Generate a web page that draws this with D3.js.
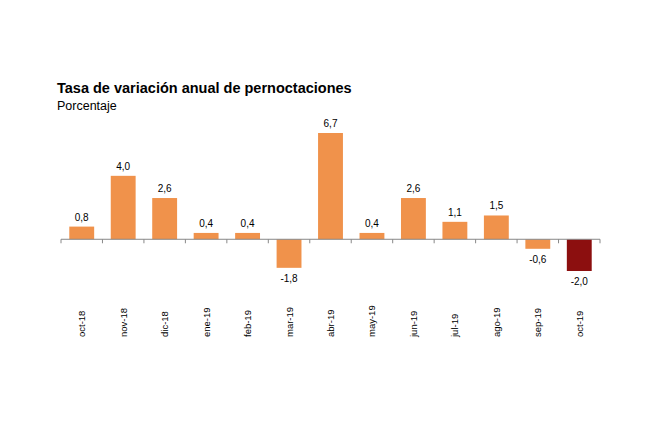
<!DOCTYPE html>
<html><head><meta charset="utf-8">
<script src="https://cdn.jsdelivr.net/npm/d3@7"></script>
<style>body{margin:0;background:#fff}text{font-family:"Liberation Sans",Arial,sans-serif}</style>
</head><body><svg width="650" height="437"></svg>
<script>
const categories = ["oct-18","nov-18","dic-18","ene-19","feb-19","mar-19","abr-19","may-19","jun-19","jul-19","ago-19","sep-19","oct-19"];
const values = [0.8, 4.0, 2.6, 0.4, 0.4, -1.8, 6.7, 0.4, 2.6, 1.1, 1.5, -0.6, -2.0];

const svg = d3.select("svg");
const x = d3.scaleBand().domain(categories).range([61, 600]).paddingInner(0.4).paddingOuter(0.2);
const y = d3.scaleLinear().domain([-2, 6.7]).range([271, 133]);

svg.append("text").attr("x", 57).attr("y", 93).attr("font-size", 14.5).attr("font-weight", "bold").text("Tasa de variación anual de pernoctaciones");
svg.append("text").attr("x", 57).attr("y", 110).attr("font-size", 12.5).text("Porcentaje");

svg.selectAll("rect.bar").data(values).enter().append("rect")
    .attr("x", (d, i) => x(categories[i]))
    .attr("width", x.bandwidth())
    .attr("y", d => y(Math.max(0, d)))
    .attr("height", d => Math.abs(y(d) - y(0)))
    .attr("fill", (d, i) => i === values.length - 1 ? "#8c0f0f" : "#f0924b");

svg.selectAll("text.val").data(values).enter().append("text")
    .attr("x", (d, i) => x(categories[i]) + x.bandwidth() / 2)
    .attr("y", d => d >= 0 ? y(d) - 6 : y(d) + 14)
    .attr("text-anchor", "middle").attr("font-size", 10)
    .text(d => d.toFixed(1).replace(".", ","));

// axis line with ticks between categories
const step = x.step();
svg.append("line").attr("x1", 61).attr("x2", 600).attr("y1", y(0)).attr("y2", y(0)).attr("stroke", "#888");
svg.selectAll("line.tk").data(d3.range(categories.length + 1)).enter().append("line")
    .attr("x1", i => 61 + i * (539 / categories.length)).attr("x2", i => 61 + i * (539 / categories.length))
    .attr("y1", y(0)).attr("y2", y(0) + 4).attr("stroke", "#888");

svg.selectAll("text.cat").data(categories).enter().append("text")
    .attr("transform", d => `translate(${x(d) + x.bandwidth() / 2 + 3.5},337) rotate(-90)`)
    .attr("font-size", 9.5).text(d => d);
</script></body></html>
